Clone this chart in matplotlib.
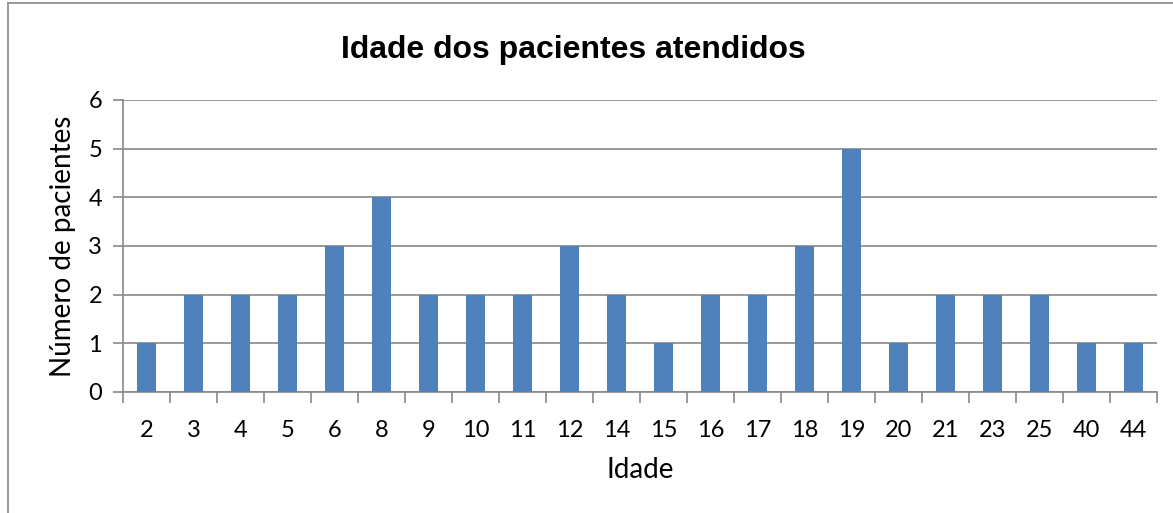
import matplotlib
matplotlib.use("Agg")
import matplotlib.pyplot as plt
from matplotlib.lines import Line2D

ages = ["2", "3", "4", "5", "6", "8", "9", "10", "11", "12", "14", "15",
        "16", "17", "18", "19", "20", "21", "23", "25", "40", "44"]
counts = [1, 2, 2, 2, 3, 4, 2, 2, 2, 3, 2, 1, 2, 2, 3, 5, 1, 2, 2, 2, 1, 1]
yticks = [0, 1, 2, 3, 4, 5, 6]

W, H = 1173, 513
fig = plt.figure(figsize=(W / 100, H / 100), dpi=100)
ax = fig.add_axes([123 / W, 1 - 392 / H, (1157 - 123) / W, (392 - 100) / H])

grid_c = "#888888"
x = list(range(len(ages)))
ax.bar(x, counts, width=0.39, color="#4F81BD", zorder=3)
ax.set_xlim(-0.5, len(ages) - 0.5)
ax.set_ylim(0, 6)
ax.set_yticks(yticks)
ax.yaxis.grid(True, color=grid_c, linewidth=1.2, zorder=0)
ax.set_xticks(x)
ax.set_xticklabels(ages)
ax.set_xticks([i - 0.5 for i in range(len(ages) + 1)], minor=True)
ax.tick_params(axis="x", which="major", length=0, pad=20)
ax.tick_params(axis="x", which="minor", length=8, color=grid_c, width=1.2)
ax.tick_params(axis="y", length=7, color=grid_c, width=1.2, pad=8)
for lab in ax.get_xticklabels() + ax.get_yticklabels():
    lab.set_fontfamily("Lato")
    lab.set_fontsize(17)
for s in ["top", "right"]:
    ax.spines[s].set_visible(False)
for s in ["left", "bottom"]:
    ax.spines[s].set_color(grid_c)
    ax.spines[s].set_linewidth(1.2)

ax.set_xlabel("Idade", fontfamily="Lato", fontsize=20, labelpad=12)
ax.set_ylabel("Número de pacientes", fontfamily="Lato", fontsize=20, labelpad=9)

fig.text(573 / W, 1 - 50 / H, "Idade dos pacientes atendidos",
         fontfamily="Liberation Sans", fontweight="bold", fontsize=23,
         ha="center", va="center")

# chart border
fig.add_artist(Line2D([8 / W, 8 / W], [0, 1 - 3 / H], transform=fig.transFigure,
                      color="#888888", linewidth=1.2))
fig.add_artist(Line2D([8 / W, 1], [1 - 3 / H, 1 - 3 / H], transform=fig.transFigure,
                      color="#888888", linewidth=1.2))

fig.savefig("out.png", dpi=100)
